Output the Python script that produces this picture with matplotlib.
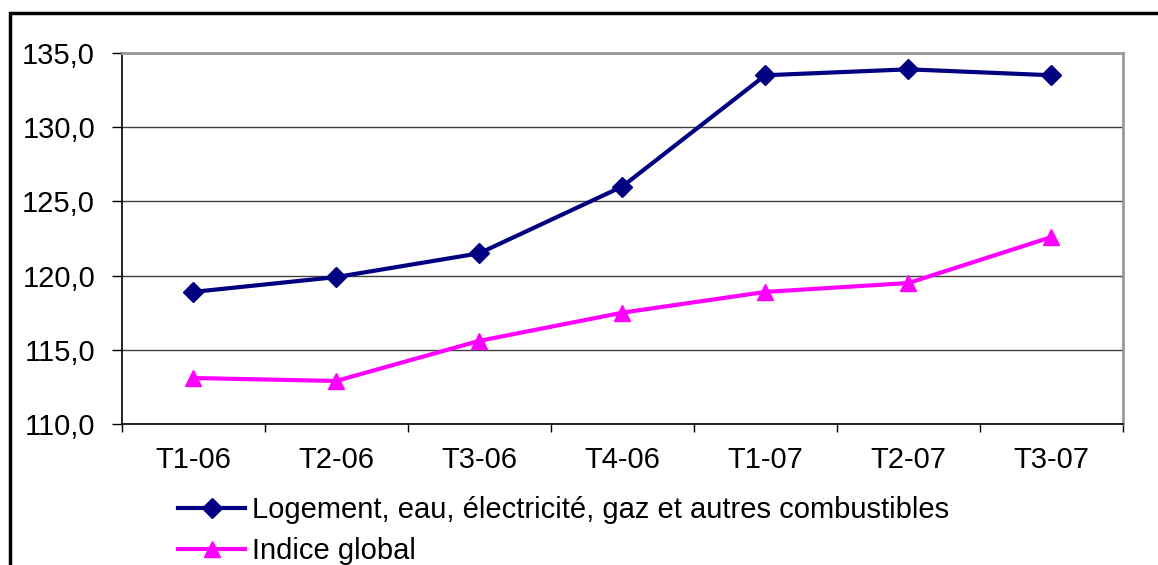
from matplotlib import pyplot as plt
from matplotlib.patches import Rectangle

quarters = ['T1-06', 'T2-06', 'T3-06', 'T4-06', 'T1-07', 'T2-07', 'T3-07']
logement = [118.9, 119.9, 121.5, 126.0, 133.5, 133.9, 133.5]
indice_global = [113.1, 112.9, 115.6, 117.5, 118.9, 119.5, 122.6]
y_ticks = [110, 115, 120, 125, 130, 135]
y_labels = ['110,0', '115,0', '120,0', '125,0', '130,0', '135,0']

W, H = 1158, 565

plt.rcParams['font.family'] = ['Liberation Sans', 'DejaVu Sans']

fig = plt.figure(figsize=(W / 100, H / 100), dpi=100)
ax = fig.add_axes([121.5 / W, 1 - 424 / H, (1123 - 121.5) / W, (424 - 53) / H])

x = range(len(quarters))
ax.plot(x, logement, color='#000080', lw=3, marker='D', ms=10,
        label='Logement, eau, électricité, gaz et autres combustibles')
ax.plot(x, indice_global, color='#FF00FF', lw=3, marker='^', ms=11,
        label='Indice global')

ax.set_xlim(-0.5, len(quarters) - 0.5)
ax.set_ylim(110, 135)
ax.set_yticks(y_ticks)
ax.set_yticklabels(y_labels, fontsize=21)
ax.set_xticks([i - 0.5 for i in range(len(quarters) + 1)])
ax.set_xticklabels([])
ax.set_xticks(list(x), minor=True)
ax.set_xticklabels(quarters, minor=True, fontsize=21)
ax.tick_params(axis='x', which='minor', length=0, pad=16)
ax.tick_params(axis='x', which='major', length=6, width=1, direction='out', color='black')
ax.tick_params(axis='y', length=7, width=1, direction='out', color='black', pad=12)

ax.yaxis.grid(True, color='#404040', lw=1)
ax.set_axisbelow(True)
for side in ['top', 'right']:
    ax.spines[side].set_color('#999999')
    ax.spines[side].set_linewidth(2)
for side in ['left', 'bottom']:
    ax.spines[side].set_color('black')
    ax.spines[side].set_linewidth(1.2)

ax.legend(loc='upper left', bbox_to_anchor=(178 / W, 1 - 496 / H),
          bbox_transform=fig.transFigure, frameon=False, fontsize=21,
          handlelength=2.3, handletextpad=0.25, labelspacing=0.46,
          borderpad=0, borderaxespad=0)

# outer frame, runs off the right and bottom of the picture
fig.add_artist(Rectangle((10 / W, -0.2), 1.5, 1.2 - 13 / H, transform=fig.transFigure,
                         fill=False, edgecolor='black', lw=2.5, clip_on=False))

fig.savefig('out.png', dpi=100)
